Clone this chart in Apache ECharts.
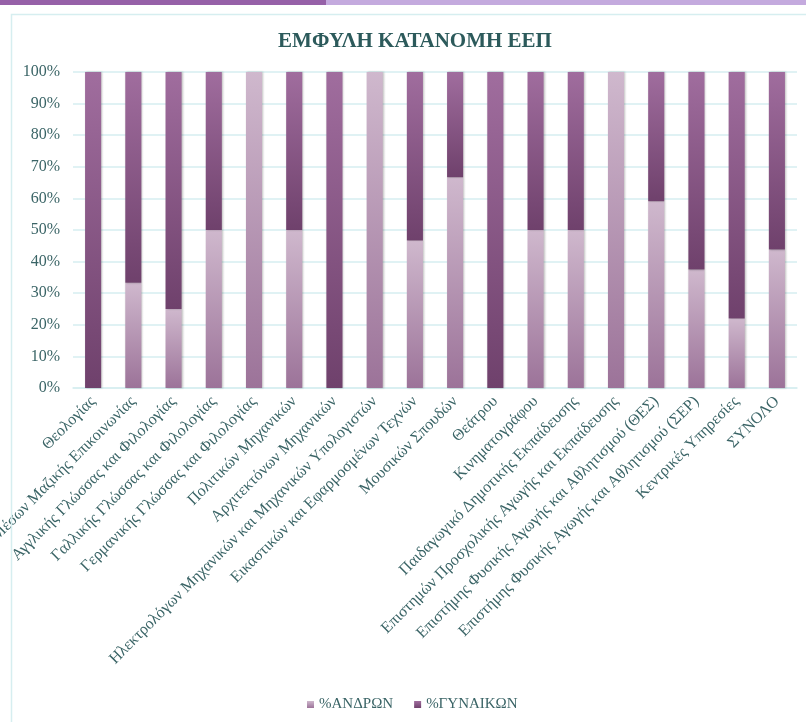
<!DOCTYPE html>
<html>
<head>
<meta charset="utf-8">
<script src="https://cdn.jsdelivr.net/npm/echarts@6/dist/echarts.min.js"></script>
<style>
html,body{margin:0;padding:0;background:#fff;}
#chart{width:806px;height:722px;}
</style>
</head>
<body>
<div id="chart"></div>
<script>
var categories = [
  "Θεολογίας",
  "Δημοσιογραφίας και Μέσων Μαζικής Επικοινωνίας",
  "Αγγλικής Γλώσσας και Φιλολογίας",
  "Γαλλικής Γλώσσας και Φιλολογίας",
  "Γερμανικής Γλώσσας και Φιλολογίας",
  "Πολιτικών Μηχανικών",
  "Αρχιτεκτόνων Μηχανικών",
  "Ηλεκτρολόγων Μηχανικών και Μηχανικών Υπολογιστών",
  "Εικαστικών και Εφαρμοσμένων Τεχνών",
  "Μουσικών Σπουδών",
  "Θεάτρου",
  "Κινηματογράφου",
  "Παιδαγωγικό Δημοτικής Εκπαίδευσης",
  "Επιστημών Προσχολικής Αγωγής και Εκπαίδευσης",
  "Επιστήμης Φυσικής Αγωγής και Αθλητισμού (ΘΕΣ)",
  "Επιστήμης Φυσικής Αγωγής και Αθλητισμού (ΣΕΡ)",
  "Κεντρικές Υπηρεσίες",
  "ΣΥΝΟΛΟ"
];
var menPct   = [0, 33.3, 25, 50, 100, 50, 0, 100, 46.7, 66.7, 0, 50, 50, 100, 59.1, 37.5, 22.0, 43.8];
var womenPct = [100, 66.7, 75, 50, 0, 50, 100, 0, 53.3, 33.3, 100, 50, 50, 0, 40.9, 62.5, 78.0, 56.2];
var yTicks = [0, 10, 20, 30, 40, 50, 60, 70, 80, 90, 100];

var textColor = "#3a6466";
var serif = "Liberation Serif";

var chart = echarts.init(document.getElementById("chart"), null, {renderer: "canvas"});
var menGrad = new echarts.graphic.LinearGradient(0, 0, 0, 1, [
  {offset: 0, color: "#cfb8cd"}, {offset: 1, color: "#9c7399"}
]);
var womenGrad = new echarts.graphic.LinearGradient(0, 0, 0, 1, [
  {offset: 0, color: "#a06d9e"}, {offset: 1, color: "#6f416c"}
]);

chart.setOption({
  backgroundColor: "#ffffff",
  animation: false,
  graphic: [
    {type: "rect", left: 0, top: 0, shape: {width: 326, height: 5}, style: {fill: "#9661a8"}, z: 10},
    {type: "rect", left: 326, top: 0, shape: {width: 480, height: 5}, style: {fill: "#c4aade"}, z: 10},
    {type: "rect", left: 9, top: 12, shape: {x: 0, y: 0, width: 820, height: 740}, style: {fill: "none", stroke: "#d6eef0", lineWidth: 1.5}, z: 10}
  ],
  title: {
    text: "ΕΜΦΥΛΗ ΚΑΤΑΝΟΜΗ ΕΕΠ",
    left: 410, top: 26, textAlign: "center",
    textStyle: {fontFamily: serif, fontWeight: "bold", fontSize: 21, color: "#2c5a5b"}
  },
  legend: {
    data: ["%ΑΝΔΡΩΝ", "%ΓΥΝΑΙΚΩΝ"],
    left: 302, top: 692,
    itemWidth: 7, itemHeight: 7, itemGap: 21,
    icon: "rect",
    textStyle: {fontFamily: serif, fontSize: 15, color: textColor}
  },
  grid: {left: 73, right: 9, top: 72, bottom: 334, containLabel: false, outerBoundsMode: "none"},
  xAxis: {
    type: "category",
    data: categories,
    axisLine: {show: true, lineStyle: {color: "#d6eef0", width: 1.5}},
    axisTick: {show: false},
    axisLabel: {
      interval: 0, rotate: 45, margin: 11,
      fontFamily: serif, fontSize: 16, color: textColor
    }
  },
  yAxis: {
    type: "value",
    min: 0, max: 100, interval: 10,
    axisLine: {show: false},
    axisTick: {show: false},
    splitLine: {lineStyle: {color: "#d6eef0", width: 1.5}},
    axisLabel: {
      formatter: function (v) { return yTicks.indexOf(v) >= 0 ? v + "%" : ""; },
      margin: 13, fontFamily: serif, fontSize: 16, color: textColor
    }
  },
  series: [
    {
      name: "%ΑΝΔΡΩΝ", type: "bar", stack: "total", data: menPct,
      barWidth: "40%",
      itemStyle: {color: menGrad, shadowColor: "rgba(0,0,0,0.25)", shadowBlur: 2, shadowOffsetX: 1}
    },
    {
      name: "%ΓΥΝΑΙΚΩΝ", type: "bar", stack: "total", data: womenPct,
      barWidth: "40%",
      itemStyle: {color: womenGrad, shadowColor: "rgba(0,0,0,0.25)", shadowBlur: 2, shadowOffsetX: 1}
    }
  ]
});
</script>
</body>
</html>
